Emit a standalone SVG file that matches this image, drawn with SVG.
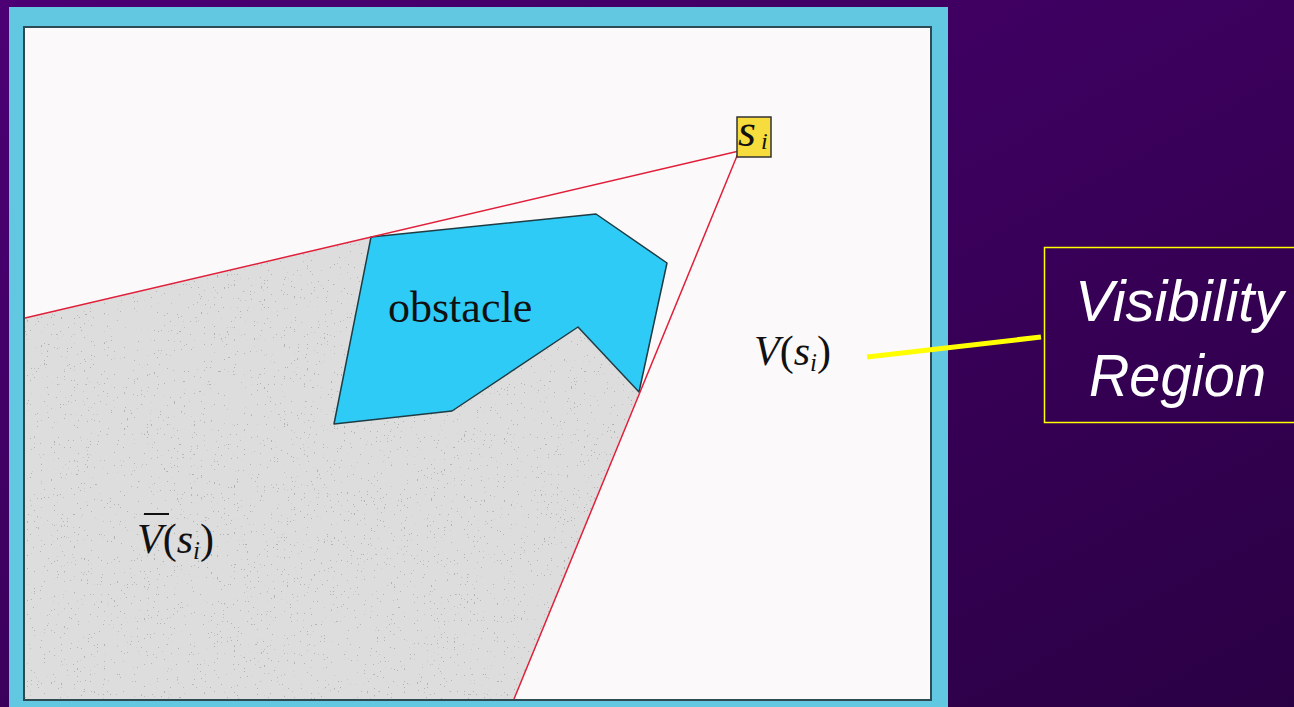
<svg xmlns="http://www.w3.org/2000/svg" width="1294" height="707" viewBox="0 0 1294 707">
<defs>
<linearGradient id="bg" x1="0" y1="0" x2="1" y2="1">
<stop offset="0" stop-color="#4c0074"/>
<stop offset="1" stop-color="#2a0044"/>
</linearGradient>
<filter id="speck" x="0" y="0" width="1" height="1">
<feTurbulence type="fractalNoise" baseFrequency="0.7" numOctaves="1" seed="3" result="n"/>
<feColorMatrix in="n" type="matrix" values="0 0 0 0 0.45  0 0 0 0 0.45  0 0 0 0 0.45  -40 0 0 0 11.8" result="d"/>
<feComposite in="d" in2="SourceGraphic" operator="in" result="dd"/>
<feMerge><feMergeNode in="SourceGraphic"/><feMergeNode in="dd"/></feMerge>
</filter>
<style>
.math{font-family:"Liberation Serif",serif;font-style:italic;fill:#111}
.label{font-family:"Liberation Serif",serif;fill:#111}
.ray{stroke:#e0203a;stroke-width:1.5;fill:none}
.callout{font-family:"Liberation Sans",Arial,sans-serif;font-style:italic;fill:#fff}
</style>
</defs>
<rect x="0" y="0" width="1294" height="707" fill="url(#bg)"/>
<rect x="9" y="7" width="939" height="700" fill="#62c8e2"/>
<rect x="24" y="27" width="907" height="673" fill="#fcf9fb" stroke="#2e4a52" stroke-width="2"/>
<g id="shadow">
<polygon points="25,318 371,237 334,424 452,411 578,327 639,392 514,699 25,699" fill="#dddddd" filter="url(#speck)"/>
</g>
<g id="obstacle">
<polygon points="371,237 596,214 667,263 639,392 578,327 452,411 334,424" fill="#2ecbf6" stroke="#1e3c44" stroke-width="1.5" stroke-linejoin="round"/>
<text x="388" y="322" class="label" font-size="44">obstacle</text>
</g>
<g id="connectors">
<line class="ray" x1="739" y1="151" x2="25" y2="318"/>
<line class="ray" x1="739" y1="151" x2="514" y2="699"/>
<line x1="867" y1="357" x2="1041" y2="337" stroke="#ffff00" stroke-width="5"/>
</g>
<g id="source">
<rect x="737" y="117" width="34" height="40" fill="#f6dc3c" stroke="#333" stroke-width="1.5"/>
<text x="738" y="146" class="math" font-size="46">s</text>
<text x="761" y="149" class="math" font-size="24">i</text>
</g>
<g id="visible">
<text x="754" y="365" class="math" font-size="42">V<tspan font-style="normal">(</tspan>s<tspan font-size="25" dy="6">i</tspan><tspan font-style="normal" dy="-6">)</tspan></text>
</g>
<g id="hidden">
<line x1="144" y1="514" x2="169" y2="514" stroke="#111" stroke-width="2"/>
<text x="137" y="553" class="math" font-size="42">V<tspan font-style="normal">(</tspan>s<tspan font-size="25" dy="6">i</tspan><tspan font-style="normal" dy="-6">)</tspan></text>
</g>
<g id="callout">
<rect x="1044.5" y="247.5" width="260" height="175" fill="none" stroke="#ffff00" stroke-width="1.5"/>
<text x="1075" y="321" class="callout" font-size="58">Visibility</text>
<text x="1089" y="396" class="callout" font-size="60" textLength="177" lengthAdjust="spacingAndGlyphs">Region</text>
</g>
</svg>
